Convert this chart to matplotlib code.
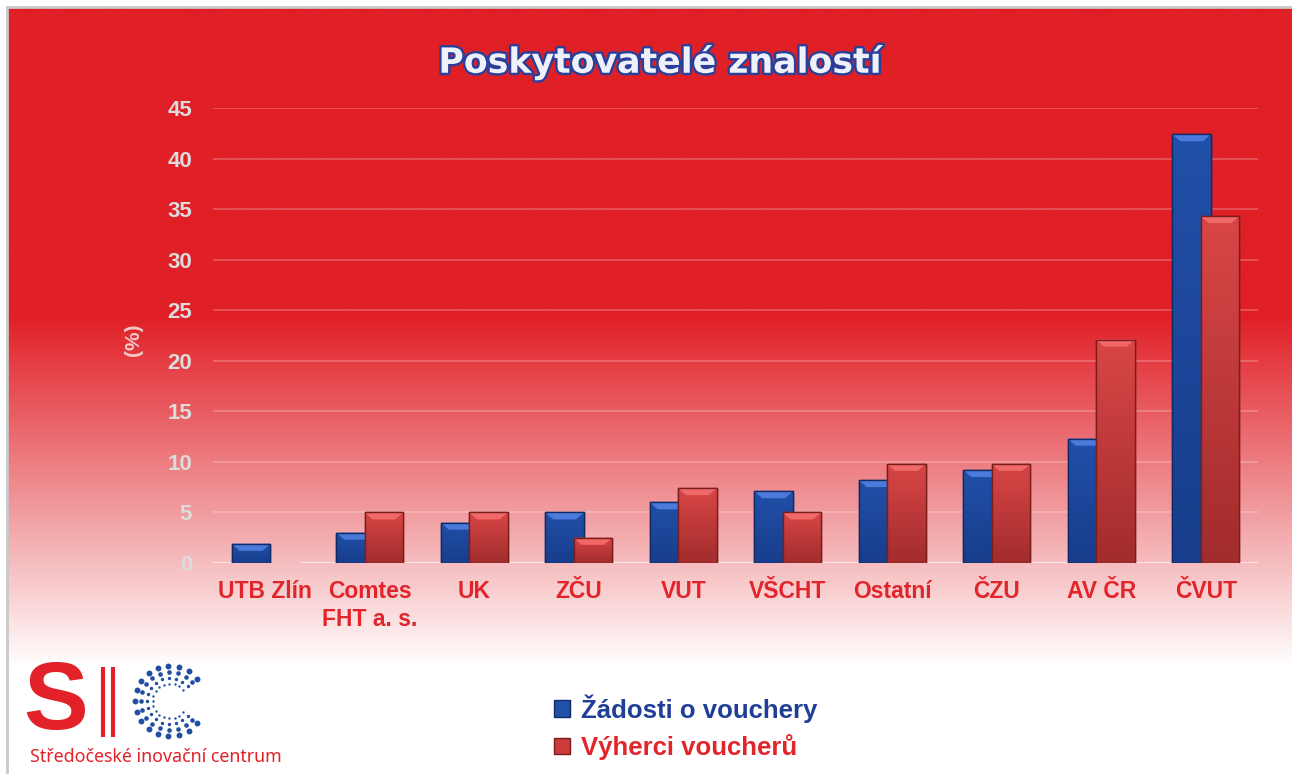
import numpy as np
import matplotlib.pyplot as plt
import matplotlib.patheffects as pe
from matplotlib.patches import Polygon, Rectangle
from matplotlib.colors import LinearSegmentedColormap

# data (%)
categories = ['UTB Zlín', 'Comtes\nFHT a. s.', 'UK', 'ZČU', 'VUT', 'VŠCHT',
              'Ostatní', 'ČZU', 'AV ČR', 'ČVUT']
zadosti = [1.9, 3.0, 4.0, 5.0, 6.0, 7.1, 8.2, 9.2, 12.3, 42.4]
vyherci = [0.0, 5.0, 5.0, 2.5, 7.4, 5.0, 9.8, 9.8, 22.1, 34.3]
y_ticks = [0, 5, 10, 15, 20, 25, 30, 35, 40, 45]
series_names = ['Žádosti o vouchery', 'Výherci voucherů']

RED = '#e01f26'
LOGO_RED = '#e32129'
W, H = 1292, 774

plt.rcParams['font.family'] = ['Liberation Sans', 'DejaVu Sans']

fig = plt.figure(figsize=(W / 100, H / 100), dpi=100)

# background: solid red fading to white, with grey frame line left/top
bg = fig.add_axes([0, 0, 1, 1], zorder=0)
bg.set_xlim(0, W)
bg.set_ylim(H, 0)
bg.axis('off')
rows = np.arange(H)
f = np.clip((rows - 310) / 355.0, 0, 1)
red = np.array([224, 31, 38]) / 255.0
grad = red[None, :] * (1 - f[:, None]) + f[:, None]
bg.imshow(grad[:, None, :], extent=(8, W, H, 8), aspect='auto', origin='upper')
bg.plot([7, 7], [7, H], color='#c8c8c8', lw=2)
bg.plot([7, W], [7, 7], color='#c8c8c8', lw=2)

# logo
bg.text(56, 704, 'S', fontsize=70, fontweight='bold', color=LOGO_RED,
        ha='center', va='center')
bg.plot([103, 103], [667, 737], color=LOGO_RED, lw=3, solid_capstyle='butt')
bg.plot([113, 113], [667, 737], color=LOGO_RED, lw=3, solid_capstyle='butt')
cx, cy = 170, 701
ang = np.radians(np.linspace(40, 320, 17))
for r, s in [(35, 18), (29, 11), (23, 6), (17.5, 3)]:
    bg.scatter(cx + r * np.cos(ang), cy - r * np.sin(ang), s=s,
               color='#1f4ea3', linewidths=0)
bg.text(30, 757, 'Středočeské inovační centrum', fontsize=12.8, color=LOGO_RED,
        ha='left', va='center', family=['Noto Sans', 'DejaVu Sans'])

# main chart
ax = fig.add_axes([213 / W, 211 / H, 1045 / W, 455 / H], zorder=1)
ax.patch.set_alpha(0)
x = np.arange(len(categories))
bw = 0.37
off = 0.135

blue_cmap = LinearSegmentedColormap.from_list('b', ['#183d8c', '#2150a8'])
red_cmap = LinearSegmentedColormap.from_list('r', ['#a22c2c', '#d94646'])
dx = 8 / 104.5
dy = 7 / 10.11


def draw_bars(xs, vals, cmap, edge, top, z):
    bars = ax.bar(xs, vals, bw, color=cmap(0.5), edgecolor=edge, lw=1.0, zorder=z)
    g = np.linspace(1, 0, 100).reshape(-1, 1)
    for b, v in zip(bars, vals):
        if v <= 0:
            continue
        x0 = b.get_x()
        x1 = x0 + b.get_width()
        im = ax.imshow(g, extent=(x0, x1, 0, v), aspect='auto', cmap=cmap,
                       origin='upper', zorder=z + 0.1)
        im.set_clip_path(b)
        h = min(dy, v * 0.4)
        ax.add_patch(Polygon([(x0, v), (x1, v), (x1 - dx, v - h), (x0 + dx, v - h)],
                             closed=True, facecolor=top, edgecolor='none',
                             zorder=z + 0.2))
        ax.add_patch(Rectangle((x0, 0), b.get_width(), v, facecolor='none',
                               edgecolor=edge, lw=1.0, zorder=z + 0.3))
    return bars


draw_bars(x - off, zadosti, blue_cmap, '#0f2a66', '#4a7bdc', 2)
draw_bars(x + off, vyherci, red_cmap, '#7a1d1d', '#f06868', 3)

ax.set_xlim(-0.5, len(categories) - 0.5)
ax.set_ylim(0, 45)
ax.set_yticks(y_ticks)
ax.set_xticks(x)
ax.set_xticklabels(categories)
for sp in ax.spines.values():
    sp.set_visible(False)
ax.grid(axis='y', color='white', alpha=0.22, lw=1.4)
ax.set_axisbelow(True)
ax.axhline(0, color='white', alpha=0.6, lw=2, zorder=1)
ax.tick_params(axis='both', length=0)
ax.tick_params(axis='y', pad=15, labelcolor='#dcdcdc', labelsize=16)
ax.tick_params(axis='x', pad=12, labelcolor='#e2252b', labelsize=16.5)
for t in ax.get_yticklabels() + ax.get_xticklabels():
    t.set_fontweight('bold')
for t in ax.get_xticklabels():
    t.set_linespacing(1.3)

fig.text(133 / W, 1 - 340 / H, '(%)', rotation=90, fontsize=15, fontweight='bold',
         color='#f3c8c8', ha='center', va='center')

fig.text(660 / W, 1 - 62 / H, 'Poskytovatelé znalostí', fontsize=25,
         fontweight='bold', color='#eef1fa', ha='center', va='center',
         family=['DejaVu Sans'],
         path_effects=[pe.withStroke(linewidth=3.5, foreground='#2b3f98')])

# legend
handles = [Rectangle((0, 0), 1, 1, facecolor='#2150a8', edgecolor='#0f2a66'),
           Rectangle((0, 0), 1, 1, facecolor='#cc3c3c', edgecolor='#7a1d1d')]
leg = ax.legend(handles, series_names, loc='upper left',
                bbox_to_anchor=(531 / W, 1 - 671 / H), bbox_transform=fig.transFigure,
                frameon=False, prop={'size': 18.5, 'weight': 'bold'},
                handlelength=0.6, handleheight=0.6, handletextpad=0.45,
                labelspacing=0.45)
for t, c in zip(leg.get_texts(), ['#1f3f97', '#e2252b']):
    t.set_color(c)

fig.savefig('out.png', dpi=100)
